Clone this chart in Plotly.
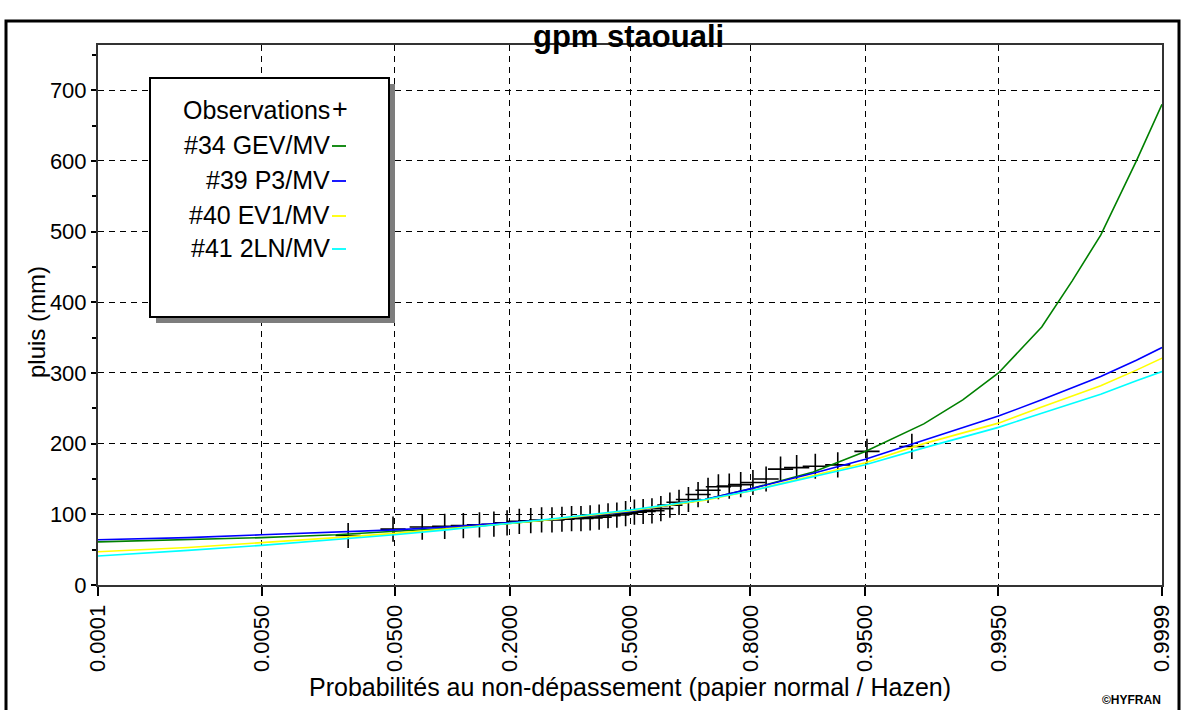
from statistics import NormalDist
import plotly.graph_objects as go

# ---- data -----------------------------------------------------------------
title = "gpm staouali"

# probability ticks on normal paper
tick_probs = [0.0001, 0.005, 0.05, 0.2, 0.5, 0.8, 0.95, 0.995, 0.9999]
tick_text = ["0.0001", "0.0050", "0.0500", "0.2000", "0.5000",
             "0.8000", "0.9500", "0.9950", "0.9999"]

# observed sample (plotting position, rainfall in mm)
obs_prob = [0.0244, 0.0488, 0.0732, 0.0976, 0.1220, 0.1463, 0.1707, 0.1951,
            0.2195, 0.2439, 0.2683, 0.2927, 0.3171, 0.3415, 0.3659, 0.3902,
            0.4146, 0.4390, 0.4634, 0.4878, 0.5122, 0.5366, 0.5610, 0.5854,
            0.6098, 0.6341, 0.6585, 0.6829, 0.7073, 0.7317, 0.7561, 0.7805,
            0.8049, 0.8293, 0.8537, 0.8780, 0.9024, 0.9268, 0.9512, 0.9756]
obs_mm = [70, 79, 82, 83, 84, 85, 86, 88, 90, 91,
          92, 92, 93, 94, 94, 95, 96, 98, 99, 101,
          103, 104, 105, 108, 113, 117, 121, 128, 134, 139,
          140, 142, 145, 150, 164, 166, 168, 170, 189, 196]

# fitted quantile curves
curve_prob = [0.0001, 0.0005, 0.001, 0.005, 0.01, 0.02, 0.05, 0.1, 0.2, 0.3,
              0.5, 0.7, 0.8, 0.9, 0.95, 0.98, 0.99, 0.995, 0.998, 0.999,
              0.9995, 0.9998, 0.9999]
gev_mm = [61, 63, 64, 67, 69, 71, 76, 80, 87, 93,
          104, 121, 136, 160, 189, 228, 262, 300, 365, 430,
          495, 600, 680]
p3_mm = [64, 66, 67, 71, 73, 75, 78, 82, 88, 93,
         104, 121, 136, 158, 178, 205, 222, 239, 262, 279,
         295, 318, 336]
ev1_mm = [47, 51, 53, 60, 63, 67, 73, 79, 87, 93,
          105, 120, 133, 155, 173, 200, 215, 229, 252, 267,
          282, 304, 321]
ln2_mm = [41, 46, 49, 56, 60, 65, 71, 78, 87, 94,
          106, 121, 133, 153, 170, 194, 209, 223, 243, 257,
          270, 289, 302]

series = [
    ("#34 GEV/MV", gev_mm, "#008000"),
    ("#39 P3/MV", p3_mm, "#0000ff"),
    ("#40 EV1/MV", ev1_mm, "#ffff00"),
    ("#41 2LN/MV", ln2_mm, "#00ffff"),
]

# ---- normal probability scale ---------------------------------------------
nd = NormalDist()


def zq(p_list):
    return [nd.inv_cdf(p) for p in p_list]


# ---- figure ---------------------------------------------------------------
W, H = 1190, 710
L, R, T, B = 98, 28, 45, 125
PW, PH = W - L - R, H - T - B


def px(x):
    return (x - L) / PW


def py(y):
    return (H - B - y) / PH


FONT = "Liberation Sans, Arial, sans-serif"

fig = go.Figure()

fig.add_trace(go.Scatter(
    x=zq(obs_prob), y=obs_mm, mode="markers", name="Observations",
    marker=dict(symbol="cross-thin-open", size=18, color="black",
                line=dict(color="black", width=1.6)),
    showlegend=False, cliponaxis=False,
))

for name, vals, col in series:
    fig.add_trace(go.Scatter(
        x=zq(curve_prob), y=vals, mode="lines", name=name,
        line=dict(color=col, width=1.6), showlegend=False,
    ))

zmin, zmax = nd.inv_cdf(tick_probs[0]), nd.inv_cdf(tick_probs[-1])

fig.update_xaxes(
    range=[zmin, zmax], tickvals=zq(tick_probs), ticktext=tick_text,
    tickangle=-90, ticks="outside", ticklen=9, tickwidth=1.5, tickcolor="black",
    showline=True, linecolor="#333333", linewidth=2, mirror=True,
    showgrid=True, gridcolor="black", gridwidth=1.3, griddash="6px,5px",
    zeroline=False, tickfont=dict(family=FONT, size=22, color="black"),
)
fig.update_yaxes(
    range=[0, 764], tickvals=list(range(0, 701, 100)),
    ticks="outside", ticklen=5, tickwidth=1.5, tickcolor="black",
    minor=dict(dtick=50, ticks="outside", ticklen=4, tickcolor="black",
               showgrid=False),
    showline=True, linecolor="#333333", linewidth=2, mirror=True,
    showgrid=True, gridcolor="black", gridwidth=1.3, griddash="6px,5px",
    zeroline=False, tickfont=dict(family=FONT, size=22, color="black"),
)

shapes = []
annots = []

# outer frame
shapes.append(dict(type="rect", xref="paper", yref="paper",
                   x0=px(6), x1=px(1179), y0=py(712), y1=py(21),
                   line=dict(color="black", width=3), layer="below"))

# legend box with shadow
shapes.append(dict(type="rect", xref="paper", yref="paper",
                   x0=px(156), x1=px(395), y0=py(323), y1=py(84),
                   fillcolor="#7d7d7d", line=dict(width=0), layer="above"))
shapes.append(dict(type="rect", xref="paper", yref="paper",
                   x0=px(150), x1=px(389), y0=py(317), y1=py(78),
                   fillcolor="white", line=dict(color="black", width=2),
                   layer="above"))

leg_rows = [("Observations", None, 110)] + [
    (name, col, yy) for (name, _, col), yy in zip(series, [145, 180, 215, 248])
]
for label, col, yy in leg_rows:
    annots.append(dict(xref="paper", yref="paper", x=px(332), y=py(yy),
                       xanchor="right", yanchor="middle", showarrow=False,
                       text=label, font=dict(family=FONT, size=25, color="black")))
    if col is None:
        annots.append(dict(xref="paper", yref="paper", x=px(340), y=py(yy - 1),
                           xanchor="center", yanchor="middle", showarrow=False,
                           text="+", font=dict(family=FONT, size=27, color="black")))
    else:
        shapes.append(dict(type="line", xref="paper", yref="paper",
                           x0=px(332), x1=px(346), y0=py(yy + 1), y1=py(yy + 1),
                           line=dict(color=col, width=1.8), layer="above"))

# titles
annots.append(dict(xref="paper", yref="paper", x=px(628), y=py(37),
                   xanchor="center", yanchor="middle", showarrow=False,
                   text="<b>" + title + "</b>",
                   font=dict(family=FONT, size=31, color="black")))
annots.append(dict(xref="paper", yref="paper", x=px(630), y=py(687),
                   xanchor="center", yanchor="middle", showarrow=False,
                   text="Probabilités au non-dépassement (papier normal / Hazen)",
                   font=dict(family=FONT, size=25, color="black")))
annots.append(dict(xref="paper", yref="paper", x=px(36), y=py(322),
                   xanchor="center", yanchor="middle", showarrow=False,
                   textangle=-90, text="pluis (mm)",
                   font=dict(family=FONT, size=24, color="black")))
annots.append(dict(xref="paper", yref="paper", x=px(1131), y=py(700),
                   xanchor="center", yanchor="middle", showarrow=False,
                   text="<b>©HYFRAN</b>",
                   font=dict(family=FONT, size=12, color="black")))

fig.update_layout(
    width=W, height=H, autosize=False,
    margin=dict(l=L, r=R, t=T, b=B, pad=0),
    paper_bgcolor="white", plot_bgcolor="white",
    shapes=shapes, annotations=annots, showlegend=False,
    font=dict(family=FONT, color="black"),
)

fig.write_html("out.html")
